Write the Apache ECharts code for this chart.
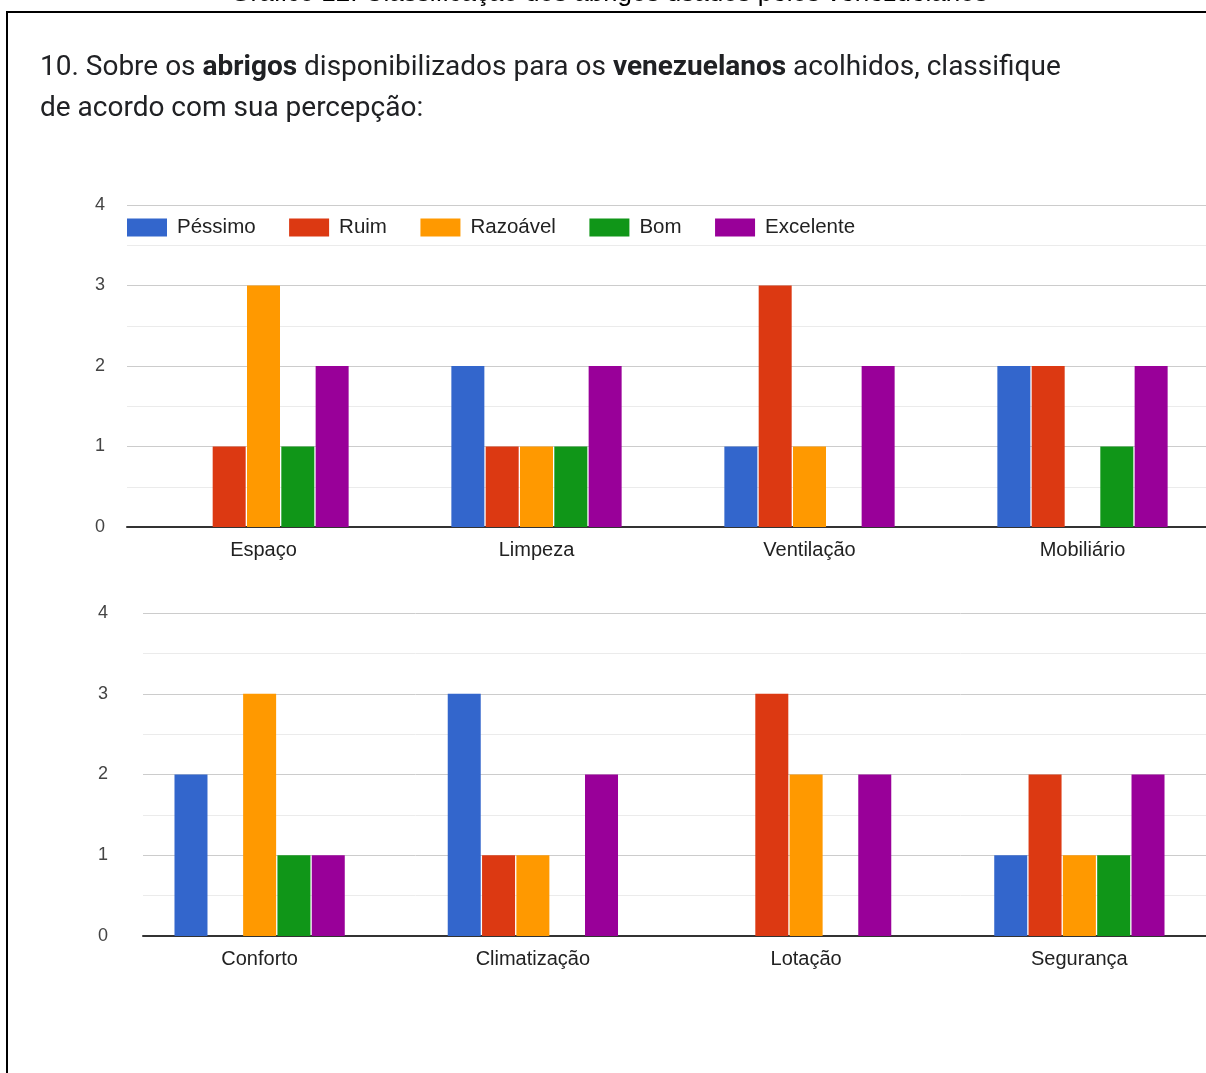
<!DOCTYPE html>
<html>
<head>
<meta charset="utf-8">
<style>
  html, body { margin: 0; padding: 0; background: #fff; overflow: hidden; }
  #chart { width: 1240px; height: 1073px; }
</style>
<script src="https://cdn.jsdelivr.net/npm/echarts@6/dist/echarts.min.js"></script>
</head>
<body>
<div id="chart"></div>
<script>
// Rating categories and colours
const ratings = ['Péssimo', 'Ruim', 'Razoável', 'Bom', 'Excelente'];
const ratingColors = ['#3366cc', '#dc3912', '#ff9900', '#109618', '#990099'];

// Shelter aspects, split across two panels
const aspectsTop = ['Espaço', 'Limpeza', 'Ventilação', 'Mobiliário'];
const aspectsBottom = ['Conforto', 'Climatização', 'Lotação', 'Segurança'];

// Number of answers per rating (one array per rating, ordered like the aspects)
const pessimoTop   = [0, 2, 1, 2];
const ruimTop      = [1, 1, 3, 2];
const razoavelTop  = [3, 1, 1, 0];
const bomTop       = [1, 1, 0, 1];
const excelenteTop = [2, 2, 2, 2];

const pessimoBottom   = [2, 3, 0, 1];
const ruimBottom      = [0, 1, 3, 2];
const razoavelBottom  = [3, 1, 2, 1];
const bomBottom       = [1, 0, 0, 1];
const excelenteBottom = [1, 2, 2, 2];

const yTicks = [0, 1, 2, 3, 4];

const topValues = [pessimoTop, ruimTop, razoavelTop, bomTop, excelenteTop];
const bottomValues = [pessimoBottom, ruimBottom, razoavelBottom, bomBottom, excelenteBottom];

const FONT = 'Arial, "Liberation Sans", sans-serif';

const chart = echarts.init(document.getElementById('chart'), null, { renderer: 'canvas' });

function valueAxis(gridIndex, showLabels, margin) {
  return {
    type: 'value', gridIndex: gridIndex,
    min: yTicks[0], max: yTicks[yTicks.length - 1], interval: 1,
    axisLine: { show: false }, axisTick: { show: false },
    axisLabel: { show: showLabels, color: '#444', fontSize: 18, fontFamily: FONT, margin: margin },
    splitLine: { show: showLabels, lineStyle: { color: '#cccccc', width: 1 } },
    minorTick: { show: false, splitNumber: 2 },
    minorSplitLine: { show: showLabels, lineStyle: { color: '#ebebeb', width: 1 } }
  };
}

function barSeries(values, axisIdx) {
  return values.map((v, i) => ({
    name: ratings[i], type: 'bar',
    xAxisIndex: axisIdx, yAxisIndex: axisIdx,
    data: v, barWidth: 33, barGap: '4%',
    itemStyle: { color: ratingColors[i] },
    z: 3
  }));
}

const option = {
  animation: false,
  backgroundColor: '#fff',
  color: ratingColors,
  legend: {
    data: ratings, left: 122, top: 212,
    itemWidth: 40, itemHeight: 18, itemGap: 33.5,
    icon: 'rect',
    textStyle: { fontSize: 20.5, fontFamily: FONT, color: '#222', padding: [0, 0, 0, 5] }
  },
  grid: [
    { left: 127, top: 205, width: 1092, height: 322, containLabel: false },
    { left: 123, top: 613, width: 1093, height: 323, containLabel: false },
    { left: 143, top: 613, width: 1090, height: 323, containLabel: false }
  ],
  xAxis: [
    {
      type: 'category', gridIndex: 0, data: aspectsTop,
      axisLine: { lineStyle: { color: '#333', width: 2 } },
      axisTick: { show: false },
      axisLabel: { color: '#222', fontSize: 20, fontFamily: FONT, margin: 13 },
      splitLine: { show: false }
    },
    {
      type: 'category', gridIndex: 1, data: aspectsBottom,
      axisLine: { show: false },
      axisTick: { show: false },
      axisLabel: { color: '#222', fontSize: 20, fontFamily: FONT, margin: 13 },
      splitLine: { show: false }
    },
    {
      type: 'value', gridIndex: 2, min: 0, max: 1,
      axisLine: { show: true, onZero: false, lineStyle: { color: '#333', width: 2 } },
      axisTick: { show: false }, axisLabel: { show: false }, splitLine: { show: false }
    }
  ],
  yAxis: [
    valueAxis(0, true, 22),
    valueAxis(1, false, 0),
    valueAxis(2, true, 35)
  ],
  series: [].concat(barSeries(topValues, 0), barSeries(bottomValues, 1)),
  graphic: [
    {
      type: 'text', x: 609, y: -19, z: 10,
      style: {
        text: 'Gráfico 12: Classificação dos abrigos usados pelos venezuelanos',
        fontSize: 26, fontFamily: FONT, fill: '#000', align: 'center'
      }
    },
    {
      type: 'rect', z: 5,
      shape: { x: 7, y: 12, width: 1400, height: 1300 },
      style: { fill: 'none', stroke: '#000', lineWidth: 2 }
    },
    {
      type: 'text', x: 40, y: 47, z: 10,
      style: {
        rich: {
          n: { fontSize: 28, fontFamily: 'Roboto, sans-serif', fill: '#202124', lineHeight: 41 },
          b: { fontSize: 28, fontFamily: 'Roboto, sans-serif', fontWeight: 'bold', fill: '#202124', lineHeight: 41 }
        },
        text: '{n|10. Sobre os }{b|abrigos}{n| disponibilizados para os }{b|venezuelanos}{n| acolhidos, classifique}\n{n|de acordo com sua percepção:}'
      }
    }
  ]
};

chart.setOption(option);
</script>
</body>
</html>
